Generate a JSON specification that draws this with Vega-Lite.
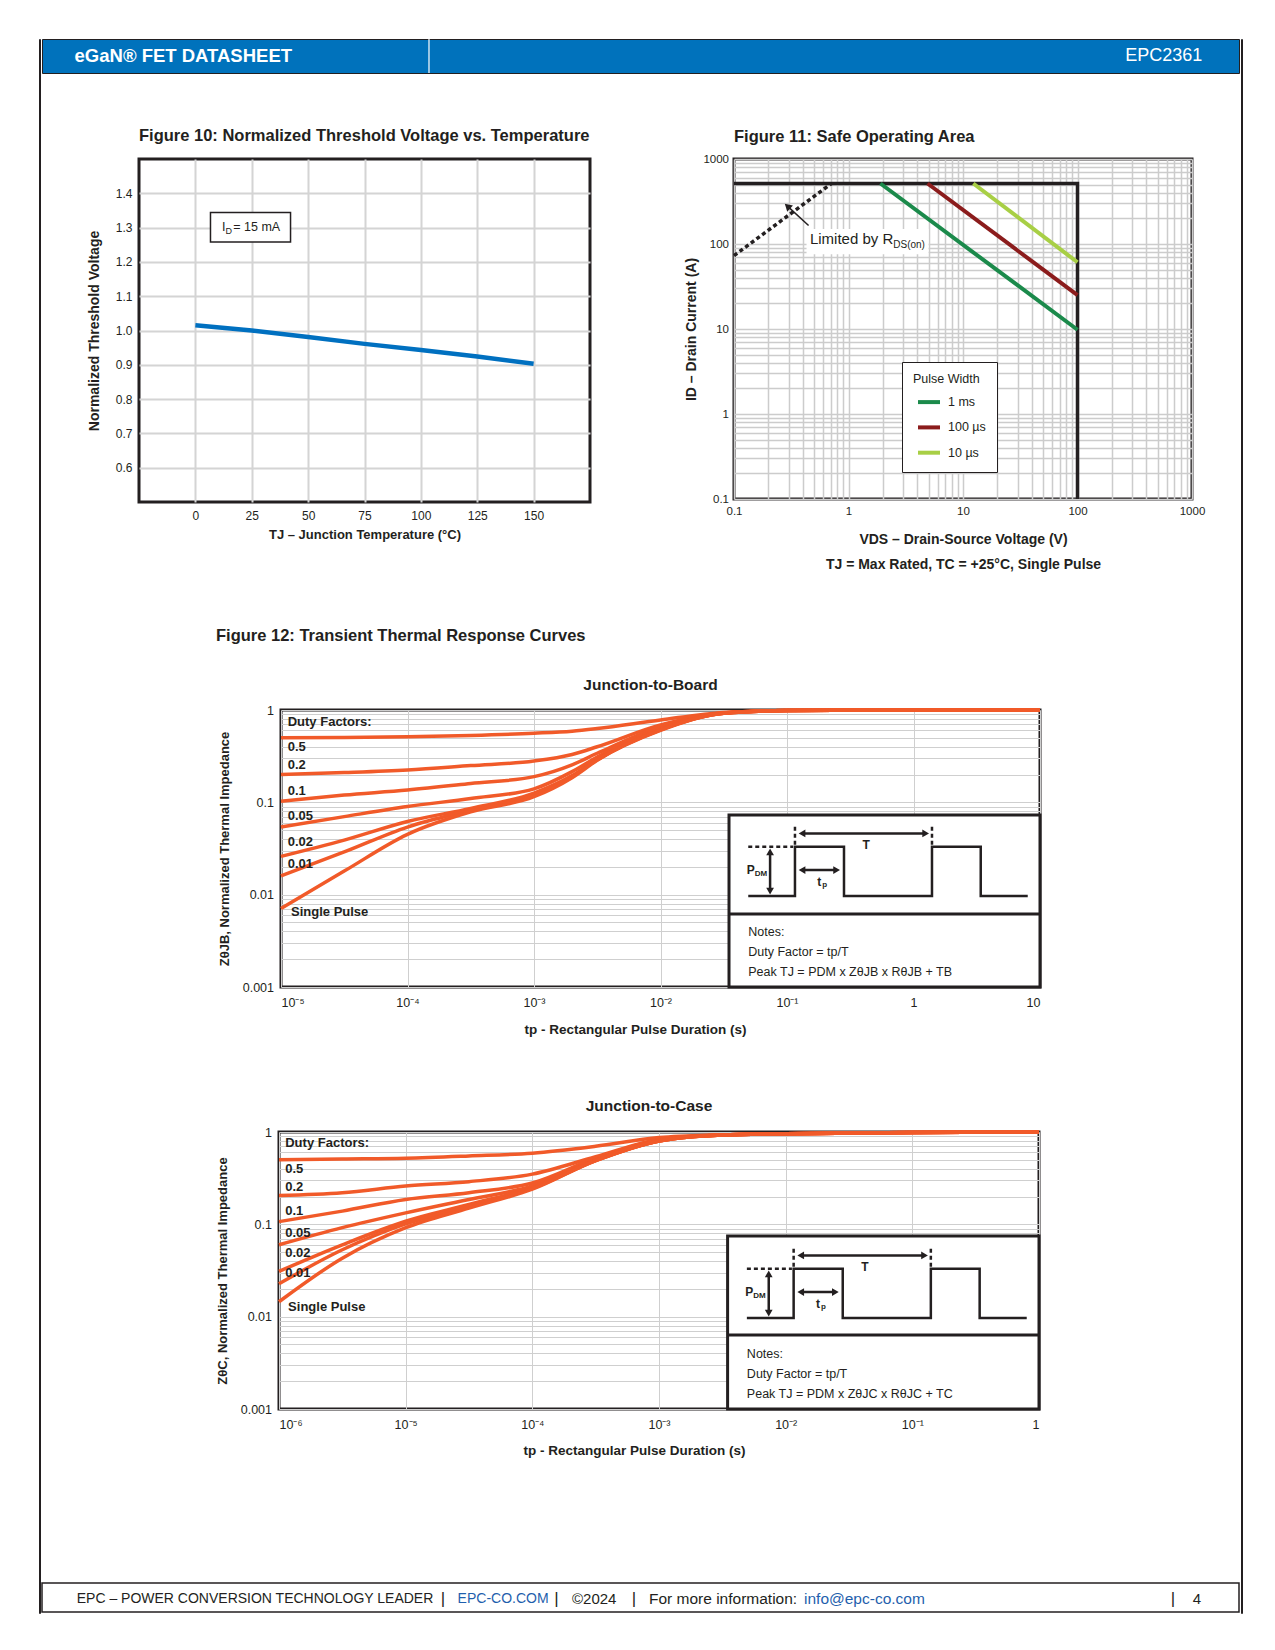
{
  "$schema": "https://vega.github.io/schema/vega-lite/v6.json",
  "background": "white",
  "padding": {"left": 38, "top": 37, "right": 0, "bottom": 0},
  "spacing": 0,
  "resolve": {"scale": {"color": "independent", "shape": "independent"}, "legend": {"color": "independent", "shape": "independent"}},
  "config": {
    "font": "Liberation Sans, Arial, sans-serif",
    "view": {"stroke": null},
    "concat": {"spacing": 0},
    "axis": {"ticks": false, "tickSize": 0, "domain": false, "grid": true, "gridColor": "#cfcfcf", "gridWidth": 1, "labelColor": "#231F20", "titleColor": "#231F20", "titleFontWeight": "bold"},
    "title": {"color": "#231F20"},
    "legend": {"labelColor": "#231F20", "titleColor": "#231F20"},
    "text": {"color": "#231F20"}
  },
  "datasets": {
    "fig10": [{"temp":0,"vth":1.015},{"temp":25,"vth":1.0},{"temp":50,"vth":0.981},{"temp":75,"vth":0.961},{"temp":100,"vth":0.943},{"temp":125,"vth":0.924},{"temp":150,"vth":0.903}],
    "soaLimit": [{"v":0.1,"i":515,"o":0},{"v":100,"i":515,"o":1},{"v":100,"i":0.1,"o":2}],
    "soaRds": [{"v":0.1,"i":73},{"v":0.71,"i":515}],
    "soaPulse": [{"pw":"1 ms","v":1.9,"i":515},{"pw":"1 ms","v":100,"i":9.8},{"pw":"100 µs","v":4.9,"i":515},{"pw":"100 µs","v":100,"i":25},{"pw":"10 µs","v":12.3,"i":515},{"pw":"10 µs","v":100,"i":61}],
    "jtb": [
      {"d":"0.5","t":0.00001,"z":0.50},{"d":"0.5","t":0.0000316,"z":0.505},{"d":"0.5","t":0.0001,"z":0.513},{"d":"0.5","t":0.000316,"z":0.53},{"d":"0.5","t":0.001,"z":0.56},{"d":"0.5","t":0.002,"z":0.59},{"d":"0.5","t":0.00316,"z":0.63},{"d":"0.5","t":0.01,"z":0.78},{"d":"0.5","t":0.0316,"z":0.94},{"d":"0.5","t":0.1,"z":0.985},{"d":"0.5","t":1,"z":1.0},{"d":"0.5","t":10,"z":1.0},
      {"d":"0.2","t":0.00001,"z":0.20},{"d":"0.2","t":0.0000316,"z":0.21},{"d":"0.2","t":0.0001,"z":0.224},{"d":"0.2","t":0.000316,"z":0.25},{"d":"0.2","t":0.001,"z":0.28},{"d":"0.2","t":0.002,"z":0.33},{"d":"0.2","t":0.00316,"z":0.40},{"d":"0.2","t":0.01,"z":0.69},{"d":"0.2","t":0.0316,"z":0.93},{"d":"0.2","t":0.1,"z":0.985},{"d":"0.2","t":1,"z":1.0},{"d":"0.2","t":10,"z":1.0},
      {"d":"0.1","t":0.00001,"z":0.103},{"d":"0.1","t":0.0000316,"z":0.12},{"d":"0.1","t":0.0001,"z":0.136},{"d":"0.1","t":0.000316,"z":0.16},{"d":"0.1","t":0.001,"z":0.19},{"d":"0.1","t":0.002,"z":0.255},{"d":"0.1","t":0.00316,"z":0.34},{"d":"0.1","t":0.01,"z":0.66},{"d":"0.1","t":0.0316,"z":0.93},{"d":"0.1","t":0.1,"z":0.985},{"d":"0.1","t":1,"z":1.0},{"d":"0.1","t":10,"z":1.0},
      {"d":"0.05","t":0.00001,"z":0.054},{"d":"0.05","t":0.0000316,"z":0.07},{"d":"0.05","t":0.0001,"z":0.09},{"d":"0.05","t":0.000316,"z":0.11},{"d":"0.05","t":0.001,"z":0.14},{"d":"0.05","t":0.002,"z":0.215},{"d":"0.05","t":0.00316,"z":0.31},{"d":"0.05","t":0.01,"z":0.63},{"d":"0.05","t":0.0316,"z":0.92},{"d":"0.05","t":0.1,"z":0.985},{"d":"0.05","t":1,"z":1.0},{"d":"0.05","t":10,"z":1.0},
      {"d":"0.02","t":0.00001,"z":0.026},{"d":"0.02","t":0.0000316,"z":0.039},{"d":"0.02","t":0.0001,"z":0.062},{"d":"0.02","t":0.000316,"z":0.086},{"d":"0.02","t":0.001,"z":0.126},{"d":"0.02","t":0.002,"z":0.195},{"d":"0.02","t":0.00316,"z":0.29},{"d":"0.02","t":0.01,"z":0.61},{"d":"0.02","t":0.0316,"z":0.92},{"d":"0.02","t":0.1,"z":0.985},{"d":"0.02","t":1,"z":1.0},{"d":"0.02","t":10,"z":1.0},
      {"d":"0.01","t":0.00001,"z":0.016},{"d":"0.01","t":0.0000316,"z":0.029},{"d":"0.01","t":0.0001,"z":0.054},{"d":"0.01","t":0.000316,"z":0.082},{"d":"0.01","t":0.001,"z":0.12},{"d":"0.01","t":0.002,"z":0.19},{"d":"0.01","t":0.00316,"z":0.29},{"d":"0.01","t":0.01,"z":0.61},{"d":"0.01","t":0.0316,"z":0.92},{"d":"0.01","t":0.1,"z":0.985},{"d":"0.01","t":1,"z":1.0},{"d":"0.01","t":10,"z":1.0},
      {"d":"Single","t":0.00001,"z":0.0071},{"d":"Single","t":0.0000316,"z":0.018},{"d":"Single","t":0.0001,"z":0.045},{"d":"Single","t":0.000316,"z":0.079},{"d":"Single","t":0.001,"z":0.115},{"d":"Single","t":0.002,"z":0.185},{"d":"Single","t":0.00316,"z":0.285},{"d":"Single","t":0.01,"z":0.60},{"d":"Single","t":0.0316,"z":0.92},{"d":"Single","t":0.1,"z":0.985},{"d":"Single","t":1,"z":1.0},{"d":"Single","t":10,"z":1.0}
    ],
    "jtc": [
      {"d":"0.5","t":0.000001,"z":0.50},{"d":"0.5","t":0.00000316,"z":0.51},{"d":"0.5","t":0.00001,"z":0.52},{"d":"0.5","t":0.0000316,"z":0.55},{"d":"0.5","t":0.0001,"z":0.59},{"d":"0.5","t":0.000316,"z":0.70},{"d":"0.5","t":0.001,"z":0.87},{"d":"0.5","t":0.00316,"z":0.93},{"d":"0.5","t":0.01,"z":0.96},{"d":"0.5","t":0.1,"z":0.99},{"d":"0.5","t":1,"z":1.0},
      {"d":"0.2","t":0.000001,"z":0.205},{"d":"0.2","t":0.00000316,"z":0.22},{"d":"0.2","t":0.00001,"z":0.26},{"d":"0.2","t":0.0000316,"z":0.29},{"d":"0.2","t":0.0001,"z":0.35},{"d":"0.2","t":0.000316,"z":0.54},{"d":"0.2","t":0.001,"z":0.83},{"d":"0.2","t":0.00316,"z":0.93},{"d":"0.2","t":0.01,"z":0.96},{"d":"0.2","t":0.1,"z":0.99},{"d":"0.2","t":1,"z":1.0},
      {"d":"0.1","t":0.000001,"z":0.107},{"d":"0.1","t":0.00000316,"z":0.139},{"d":"0.1","t":0.00001,"z":0.186},{"d":"0.1","t":0.0000316,"z":0.22},{"d":"0.1","t":0.0001,"z":0.28},{"d":"0.1","t":0.000316,"z":0.52},{"d":"0.1","t":0.001,"z":0.82},{"d":"0.1","t":0.00316,"z":0.93},{"d":"0.1","t":0.01,"z":0.96},{"d":"0.1","t":0.1,"z":0.99},{"d":"0.1","t":1,"z":1.0},
      {"d":"0.05","t":0.000001,"z":0.06},{"d":"0.05","t":0.00000316,"z":0.092},{"d":"0.05","t":0.00001,"z":0.133},{"d":"0.05","t":0.0000316,"z":0.186},{"d":"0.05","t":0.0001,"z":0.26},{"d":"0.05","t":0.000316,"z":0.50},{"d":"0.05","t":0.001,"z":0.80},{"d":"0.05","t":0.00316,"z":0.93},{"d":"0.05","t":0.01,"z":0.96},{"d":"0.05","t":0.1,"z":0.99},{"d":"0.05","t":1,"z":1.0},
      {"d":"0.02","t":0.000001,"z":0.031},{"d":"0.02","t":0.00000316,"z":0.06},{"d":"0.02","t":0.00001,"z":0.108},{"d":"0.02","t":0.0000316,"z":0.164},{"d":"0.02","t":0.0001,"z":0.25},{"d":"0.02","t":0.000316,"z":0.49},{"d":"0.02","t":0.001,"z":0.80},{"d":"0.02","t":0.00316,"z":0.93},{"d":"0.02","t":0.01,"z":0.96},{"d":"0.02","t":0.1,"z":0.99},{"d":"0.02","t":1,"z":1.0},
      {"d":"0.01","t":0.000001,"z":0.0227},{"d":"0.01","t":0.00000316,"z":0.053},{"d":"0.01","t":0.00001,"z":0.101},{"d":"0.01","t":0.0000316,"z":0.157},{"d":"0.01","t":0.0001,"z":0.245},{"d":"0.01","t":0.000316,"z":0.49},{"d":"0.01","t":0.001,"z":0.80},{"d":"0.01","t":0.00316,"z":0.93},{"d":"0.01","t":0.01,"z":0.96},{"d":"0.01","t":0.1,"z":0.99},{"d":"0.01","t":1,"z":1.0},
      {"d":"Single","t":0.000001,"z":0.0145},{"d":"Single","t":0.00000316,"z":0.043},{"d":"Single","t":0.00001,"z":0.092},{"d":"Single","t":0.0000316,"z":0.15},{"d":"Single","t":0.0001,"z":0.24},{"d":"Single","t":0.000316,"z":0.49},{"d":"Single","t":0.001,"z":0.80},{"d":"Single","t":0.00316,"z":0.93},{"d":"Single","t":0.01,"z":0.96},{"d":"Single","t":0.1,"z":0.99},{"d":"Single","t":1,"z":1.0}
    ],
    "jtbLabels": [{"t":0.0000113,"z":0.75,"label":"Duty Factors:"},{"t":0.0000113,"z":0.40,"label":"0.5"},{"t":0.0000113,"z":0.254,"label":"0.2"},{"t":0.0000113,"z":0.134,"label":"0.1"},{"t":0.0000113,"z":0.0716,"label":"0.05"},{"t":0.0000113,"z":0.0374,"label":"0.02"},{"t":0.0000113,"z":0.0215,"label":"0.01"},{"t":0.000012,"z":0.0065,"label":"Single Pulse"}],
    "jtcLabels": [{"t":0.00000112,"z":0.76,"label":"Duty Factors:"},{"t":0.00000112,"z":0.40,"label":"0.5"},{"t":0.00000112,"z":0.252,"label":"0.2"},{"t":0.00000112,"z":0.139,"label":"0.1"},{"t":0.00000112,"z":0.081,"label":"0.05"},{"t":0.00000112,"z":0.049,"label":"0.02"},{"t":0.00000112,"z":0.030,"label":"0.01"},{"t":0.00000118,"z":0.0127,"label":"Single Pulse"}],
    "jtbBox": [{"t":0.0348,"t2":10,"z":0.001,"z2":0.0729}],
    "jtbDiv": [{"t":0.0348,"t2":10,"z":0.00616,"z2":0.00616}],
    "jtbWave": [{"o":0,"t":0.0494,"z":0.00966},{"o":1,"t":0.1156,"z":0.00966},{"o":2,"t":0.1156,"z":0.033},{"o":3,"t":0.2822,"z":0.033},{"o":4,"t":0.2822,"z":0.00966},{"o":5,"t":1.40,"z":0.00966},{"o":6,"t":1.40,"z":0.033},{"o":7,"t":3.40,"z":0.033},{"o":8,"t":3.40,"z":0.00966},{"o":9,"t":8.0,"z":0.00966}],
    "jtbDash": [{"t":0.0494,"t2":0.112,"z":0.033,"z2":0.033},{"t":0.1156,"t2":0.1156,"z":0.0544,"z2":0.0345},{"t":1.40,"t2":1.40,"z":0.0544,"z2":0.0345}],
    "jtbShaft": [{"t":0.0735,"t2":0.0735,"z":0.0291,"z2":0.01094},{"t":0.1315,"t2":0.2468,"z":0.01847,"z2":0.01847},{"t":0.1315,"t2":1.248,"z":0.0461,"z2":0.0461}],
    "jtbHead": [{"t":0.0735,"z":0.0291,"dir":"up"},{"t":0.0735,"z":0.01094,"dir":"down"},{"t":0.1315,"z":0.01847,"dir":"left"},{"t":0.2468,"z":0.01847,"dir":"right"},{"t":0.1315,"z":0.0461,"dir":"left"},{"t":1.248,"z":0.0461,"dir":"right"}],
    "jtbBig": [{"t":0.395,"z":0.0345,"label":"T"},{"t":0.048,"z":0.01847,"label":"P"},{"t":0.1736,"z":0.0138,"label":"t"}],
    "jtbSmall": [{"t":0.0555,"z":0.0168,"label":"DM"},{"t":0.190,"z":0.0127,"label":"p"}],
    "jtbNotes": [{"t":0.0494,"z":0.00396,"label":"Notes:"},{"t":0.0494,"z":0.0024,"label":"Duty Factor = tp/T"},{"t":0.0494,"z":0.00146,"label":"Peak TJ = PDM x ZθJB x RθJB + TB"}],
    "jtcBox": [{"t":0.00348,"t2":1,"z":0.001,"z2":0.0749}],
    "jtcDiv": [{"t":0.00348,"t2":1,"z":0.00635,"z2":0.00635}],
    "jtcWave": [{"o":0,"t":0.00494,"z":0.00966},{"o":1,"t":0.01156,"z":0.00966},{"o":2,"t":0.01156,"z":0.033},{"o":3,"t":0.02822,"z":0.033},{"o":4,"t":0.02822,"z":0.00966},{"o":5,"t":0.140,"z":0.00966},{"o":6,"t":0.140,"z":0.033},{"o":7,"t":0.340,"z":0.033},{"o":8,"t":0.340,"z":0.00966},{"o":9,"t":0.80,"z":0.00966}],
    "jtcDash": [{"t":0.00494,"t2":0.0112,"z":0.033,"z2":0.033},{"t":0.01156,"t2":0.01156,"z":0.0544,"z2":0.0345},{"t":0.140,"t2":0.140,"z":0.0544,"z2":0.0345}],
    "jtcShaft": [{"t":0.00735,"t2":0.00735,"z":0.0291,"z2":0.01094},{"t":0.01315,"t2":0.02468,"z":0.01847,"z2":0.01847},{"t":0.01315,"t2":0.1248,"z":0.0461,"z2":0.0461}],
    "jtcHead": [{"t":0.00735,"z":0.0291,"dir":"up"},{"t":0.00735,"z":0.01094,"dir":"down"},{"t":0.01315,"z":0.01847,"dir":"left"},{"t":0.02468,"z":0.01847,"dir":"right"},{"t":0.01315,"z":0.0461,"dir":"left"},{"t":0.1248,"z":0.0461,"dir":"right"}],
    "jtcBig": [{"t":0.0395,"z":0.0345,"label":"T"},{"t":0.0048,"z":0.01847,"label":"P"},{"t":0.01736,"z":0.0138,"label":"t"}],
    "jtcSmall": [{"t":0.00555,"z":0.0168,"label":"DM"},{"t":0.0190,"z":0.0127,"label":"p"}],
    "jtcNotes": [{"t":0.00494,"z":0.00396,"label":"Notes:"},{"t":0.00494,"z":0.0024,"label":"Duty Factor = tp/T"},{"t":0.00494,"z":0.00146,"label":"Peak TJ = PDM x ZθJC x RθJC + TC"}]
  },
  "hconcat": [
    {"width": 1, "height": 1574, "data": {"values": []}, "mark": "point", "view": {"stroke": "#231F20", "strokeWidth": 1}},
    {
      "spacing": 0,
      "resolve": {"scale": {"color": "independent", "shape": "independent"}, "legend": {"color": "independent", "shape": "independent"}},
      "vconcat": [
        {
          "width": 1197, "height": 34,
          "view": {"fill": "#0072BC", "stroke": "#231F20", "strokeWidth": 1},
          "layer": [
            {"data": {"values": [{"label": "eGaN® FET DATASHEET"}]}, "mark": {"type": "text", "align": "left", "baseline": "middle", "fontSize": 18.5, "fontWeight": "bold", "color": "white"}, "encoding": {"x": {"datum": 0.0272, "type": "quantitative", "scale": {"domain": [0, 1]}, "axis": null}, "text": {"field": "label"}}},
            {"data": {"values": [{"label": "EPC2361"}]}, "mark": {"type": "text", "align": "right", "baseline": "middle", "fontSize": 18, "color": "white"}, "encoding": {"x": {"datum": 0.9694, "type": "quantitative"}, "text": {"field": "label"}}},
            {"data": {"values": [{"label": "sep"}]}, "mark": {"type": "rule", "color": "white", "strokeWidth": 1.2}, "encoding": {"x": {"datum": 0.3233, "type": "quantitative"}}}
          ]
        },
        {"width": 1, "height": 51, "data": {"values": []}, "mark": "point"},
        {
          "spacing": 0,
          "resolve": {"scale": {"color": "independent"}, "legend": {"color": "independent"}},
          "hconcat": [
            {"width": 43, "height": 1, "data": {"values": []}, "mark": "point"},
            {
              "width": 451, "height": 343,
              "view": {"stroke": "#231F20", "strokeWidth": 3},
              "title": {"text": "Figure 10: Normalized Threshold Voltage vs. Temperature", "anchor": "start", "frame": "group", "fontSize": 16.5, "fontWeight": "bold", "offset": 14.7},
              "layer": [
                {"data": {"name": "fig10"}, "mark": {"type": "line", "color": "#0070C0", "strokeWidth": 4.5},
                 "encoding": {
                   "x": {"field": "temp", "type": "quantitative", "scale": {"domain": [-25, 175], "nice": false, "zero": false},
                         "axis": {"values": [0, 25, 50, 75, 100, 125, 150], "title": "TJ – Junction Temperature (°C)", "labelFontSize": 12, "labelPadding": 8, "titleFontSize": 13, "titlePadding": 7.5, "gridWidth": 2, "gridColor": "#d4d4d4", "labelFlush": false}},
                   "y": {"field": "vth", "type": "quantitative", "scale": {"domain": [0.5, 1.5], "nice": false, "zero": false},
                         "axis": {"values": [0.6, 0.7, 0.8, 0.9, 1.0, 1.1, 1.2, 1.3, 1.4], "format": ".1f", "title": "Normalized Threshold Voltage", "labelFontSize": 12, "labelPadding": 7, "titleFontSize": 14, "titlePadding": 14, "gridWidth": 2, "gridColor": "#d4d4d4"}}
                 }},
                {"data": {"values": [{"temp": 6.7, "temp2": 42.2, "vth": 1.258, "vth2": 1.344}]}, "mark": {"type": "rect", "fill": "white", "stroke": "#231F20", "strokeWidth": 1.5},
                 "encoding": {"x": {"field": "temp", "type": "quantitative"}, "x2": {"field": "temp2"}, "y": {"field": "vth", "type": "quantitative"}, "y2": {"field": "vth2"}}},
                {"data": {"values": [{"temp": 11.8, "vth": 1.301, "label": "I"}, {"temp": 16.8, "vth": 1.301, "label": "= 15 mA"}]}, "mark": {"type": "text", "align": "left", "baseline": "middle", "fontSize": 12.5},
                 "encoding": {"x": {"field": "temp", "type": "quantitative"}, "y": {"field": "vth", "type": "quantitative"}, "text": {"field": "label"}}},
                {"data": {"values": [{"temp": 13.4, "vth": 1.289, "label": "D"}]}, "mark": {"type": "text", "align": "left", "baseline": "middle", "fontSize": 9},
                 "encoding": {"x": {"field": "temp", "type": "quantitative"}, "y": {"field": "vth", "type": "quantitative"}, "text": {"field": "label"}}}
              ]
            },
            {"width": 90.5, "height": 1, "data": {"values": []}, "mark": "point"},
            {
              "width": 458, "height": 340,
              "view": {"stroke": "#231F20", "strokeWidth": 3},
              "title": {"text": "Figure 11: Safe Operating Area", "anchor": "start", "frame": "group", "fontSize": 16.5, "fontWeight": "bold", "offset": 8},
              "layer": [
                {"data": {"values": [{"v": 0.43, "v2": 5.0, "i": 76, "i2": 150}]}, "mark": {"type": "rect", "fill": "white"},
                 "encoding": {
                   "x": {"field": "v", "type": "quantitative", "scale": {"type": "log", "domain": [0.1, 1000], "nice": false},
                         "axis": {"values": [0.1,0.2,0.3,0.4,0.5,0.6,0.7,0.8,0.9,1,2,3,4,5,6,7,8,9,10,20,30,40,50,60,70,80,90,100,200,300,400,500,600,700,800,900,1000],
                                  "labelExpr": "abs(log(datum.value)/LN10 - round(log(datum.value)/LN10)) < 0.01 ? format(datum.value, '~g') : ''",
                                  "title": ["VDS – Drain-Source Voltage (V)", "TJ = Max Rated, TC = +25°C, Single Pulse"], "titleLineHeight": 25, "labelFontSize": 11.5, "labelPadding": 6.5, "titleFontSize": 14, "titlePadding": 15.5, "labelFlush": false, "gridWidth": 1.5, "gridColor": "#cccccc"}},
                   "x2": {"field": "v2"},
                   "y": {"field": "i", "type": "quantitative", "scale": {"type": "log", "domain": [0.1, 1000], "nice": false},
                         "axis": {"values": [0.1,0.2,0.3,0.4,0.5,0.6,0.7,0.8,0.9,1,2,3,4,5,6,7,8,9,10,20,30,40,50,60,70,80,90,100,200,300,400,500,600,700,800,900,1000],
                                  "labelExpr": "abs(log(datum.value)/LN10 - round(log(datum.value)/LN10)) < 0.01 ? format(datum.value, '~g') : ''",
                                  "title": "ID – Drain Current (A)", "labelFontSize": 11.5, "labelPadding": 5.5, "titleFontSize": 14, "titlePadding": 4, "gridWidth": 1.5, "gridColor": "#cccccc"}},
                   "y2": {"field": "i2"}
                 }},
                {"data": {"name": "soaLimit"}, "mark": {"type": "line", "color": "#231F20", "strokeWidth": 3.5},
                 "encoding": {"x": {"field": "v", "type": "quantitative"}, "y": {"field": "i", "type": "quantitative"}, "order": {"field": "o"}}},
                {"data": {"name": "soaRds"}, "mark": {"type": "line", "color": "#231F20", "strokeWidth": 3.5, "strokeDash": [4, 3]},
                 "encoding": {"x": {"field": "v", "type": "quantitative"}, "y": {"field": "i", "type": "quantitative"}}},
                {"data": {"name": "soaPulse"}, "mark": {"type": "line", "strokeWidth": 4},
                 "encoding": {"x": {"field": "v", "type": "quantitative"}, "y": {"field": "i", "type": "quantitative"},
                   "color": {"field": "pw", "type": "nominal", "scale": {"domain": ["1 ms", "100 µs", "10 µs"], "range": ["#1B8A4B", "#8B1C1C", "#A8CF45"]},
                             "legend": {"orient": "none", "legendX": 168, "legendY": 203, "title": "Pulse Width", "titleFontSize": 12.5, "titleFontWeight": "normal", "labelFontSize": 12.5, "symbolType": "stroke", "symbolStrokeWidth": 4, "symbolSize": 484, "symbolOffset": 3, "strokeColor": "#231F20", "fillColor": "white", "padding": 11, "rowPadding": 4.3, "titlePadding": 3.6, "labelOffset": 6}}}},
                {"data": {"values": [{"v": 0.448, "v2": 0.293, "i": 165, "i2": 279}]}, "mark": {"type": "rule", "color": "#231F20", "strokeWidth": 1.5},
                 "encoding": {"x": {"field": "v", "type": "quantitative"}, "x2": {"field": "v2"}, "y": {"field": "i", "type": "quantitative"}, "y2": {"field": "i2"}}},
                {"data": {"values": [{"v": 0.293, "i": 279}]}, "mark": {"type": "point", "shape": "triangle-up", "filled": true, "color": "#231F20", "size": 70, "angle": -47, "opacity": 1},
                 "encoding": {"x": {"field": "v", "type": "quantitative"}, "y": {"field": "i", "type": "quantitative"}}},
                {"data": {"values": [{"v": 0.46, "i": 115, "label": "Limited by R"}]}, "mark": {"type": "text", "align": "left", "baseline": "middle", "fontSize": 15},
                 "encoding": {"x": {"field": "v", "type": "quantitative"}, "y": {"field": "i", "type": "quantitative"}, "text": {"field": "label"}}},
                {"data": {"values": [{"v": 2.46, "i": 97, "label": "DS(on)"}]}, "mark": {"type": "text", "align": "left", "baseline": "middle", "fontSize": 10},
                 "encoding": {"x": {"field": "v", "type": "quantitative"}, "y": {"field": "i", "type": "quantitative"}, "text": {"field": "label"}}}
              ]
            }
          ]
        },
        {"width": 1, "height": 54, "data": {"values": []}, "mark": "point"},
        {
          "spacing": 0,
          "hconcat": [
            {"width": 174, "height": 1, "data": {"values": []}, "mark": "point"},
            {"width": 500, "height": 1, "data": {"values": []}, "mark": "point",
             "title": {"text": "Figure 12:  Transient Thermal Response Curves", "anchor": "start", "fontSize": 16.5, "fontWeight": "bold", "offset": 0}}
          ]
        },
        {"width": 1, "height": 31, "data": {"values": []}, "mark": "point"},
        {
          "spacing": 0,
          "hconcat": [
            {"width": 174, "height": 1, "data": {"values": []}, "mark": "point"},
            {
              "width": 759, "height": 277,
              "view": {"stroke": "#231F20", "strokeWidth": 3},
              "title": {"text": "Junction-to-Board", "fontSize": 15.5, "fontWeight": "bold", "anchor": "middle", "frame": "group", "dx": -10, "offset": 9.7},
              "layer": [
                {"data": {"name": "jtb"}, "mark": {"type": "line", "color": "#F15A29", "strokeWidth": 3.5, "interpolate": "monotone"},
                 "encoding": {
                   "x": {"field": "t", "type": "quantitative", "scale": {"type": "log", "domain": [0.00001, 10], "nice": false},
                         "axis": {"values": [0.00001, 0.0001, 0.001, 0.01, 0.1, 1, 10],
                                  "labelExpr": "datum.value < 0.000005 ? '10⁻⁶' : datum.value < 0.00005 ? '10⁻⁵' : datum.value < 0.0005 ? '10⁻⁴' : datum.value < 0.005 ? '10⁻³' : datum.value < 0.05 ? '10⁻²' : datum.value < 0.5 ? '10⁻¹' : datum.value < 5 ? '1' : '10'",
                                  "title": "tp - Rectangular Pulse Duration (s)", "titleX": 354, "labelFontSize": 12.5, "labelPadding": 9.5, "titleFontSize": 13.5, "titlePadding": 13.5}},
                   "y": {"field": "z", "type": "quantitative", "scale": {"type": "log", "domain": [0.001, 1], "nice": false},
                         "axis": {"values": [0.001,0.002,0.003,0.004,0.005,0.006,0.007,0.008,0.009,0.01,0.02,0.03,0.04,0.05,0.06,0.07,0.08,0.09,0.1,0.2,0.3,0.4,0.5,0.6,0.7,0.8,0.9,1],
                                  "labelExpr": "abs(log(datum.value)/LN10 - round(log(datum.value)/LN10)) < 0.01 ? format(datum.value, '~g') : ''",
                                  "title": "ZθJB, Normalized Thermal Impedance", "labelFontSize": 12.5, "labelPadding": 7.5, "titleFontSize": 13, "titlePadding": 11}},
                   "detail": {"field": "d"}
                 }},
                {"data": {"name": "jtbBox"}, "mark": {"type": "rect", "fill": "white", "stroke": "#231F20", "strokeWidth": 3},
                 "encoding": {"x": {"field": "t", "type": "quantitative"}, "x2": {"field": "t2"}, "y": {"field": "z", "type": "quantitative"}, "y2": {"field": "z2"}}},
                {"data": {"name": "jtbDiv"}, "mark": {"type": "rule", "color": "#231F20", "strokeWidth": 3},
                 "encoding": {"x": {"field": "t", "type": "quantitative"}, "x2": {"field": "t2"}, "y": {"field": "z", "type": "quantitative"}, "y2": {"field": "z2"}}},
                {"data": {"name": "jtbWave"}, "mark": {"type": "line", "color": "#231F20", "strokeWidth": 2.5},
                 "encoding": {"x": {"field": "t", "type": "quantitative"}, "y": {"field": "z", "type": "quantitative"}, "order": {"field": "o"}}},
                {"data": {"name": "jtbDash"}, "mark": {"type": "rule", "color": "#231F20", "strokeWidth": 2.5, "strokeDash": [4, 3]},
                 "encoding": {"x": {"field": "t", "type": "quantitative"}, "x2": {"field": "t2"}, "y": {"field": "z", "type": "quantitative"}, "y2": {"field": "z2"}}},
                {"data": {"name": "jtbShaft"}, "mark": {"type": "rule", "color": "#231F20", "strokeWidth": 2.5},
                 "encoding": {"x": {"field": "t", "type": "quantitative"}, "x2": {"field": "t2"}, "y": {"field": "z", "type": "quantitative"}, "y2": {"field": "z2"}}},
                {"data": {"name": "jtbHead"}, "mark": {"type": "point", "filled": true, "color": "#231F20", "size": 60, "opacity": 1},
                 "encoding": {"x": {"field": "t", "type": "quantitative"}, "y": {"field": "z", "type": "quantitative"},
                   "shape": {"field": "dir", "type": "nominal", "scale": {"domain": ["up", "down", "left", "right"], "range": ["triangle-up", "triangle-down", "triangle-left", "triangle-right"]}, "legend": null}}},
                {"data": {"name": "jtbBig"}, "mark": {"type": "text", "align": "left", "baseline": "middle", "fontSize": 12, "fontWeight": "bold"},
                 "encoding": {"x": {"field": "t", "type": "quantitative"}, "y": {"field": "z", "type": "quantitative"}, "text": {"field": "label"}}},
                {"data": {"name": "jtbSmall"}, "mark": {"type": "text", "align": "left", "baseline": "middle", "fontSize": 8, "fontWeight": "bold"},
                 "encoding": {"x": {"field": "t", "type": "quantitative"}, "y": {"field": "z", "type": "quantitative"}, "text": {"field": "label"}}},
                {"data": {"name": "jtbNotes"}, "mark": {"type": "text", "align": "left", "baseline": "middle", "fontSize": 12.5},
                 "encoding": {"x": {"field": "t", "type": "quantitative"}, "y": {"field": "z", "type": "quantitative"}, "text": {"field": "label"}}},
                {"data": {"name": "jtbLabels"}, "mark": {"type": "text", "align": "left", "baseline": "middle", "fontSize": 13, "fontWeight": "bold"},
                 "encoding": {"x": {"field": "t", "type": "quantitative"}, "y": {"field": "z", "type": "quantitative"}, "text": {"field": "label"}}}
              ]
            }
          ]
        },
        {"width": 1, "height": 59, "data": {"values": []}, "mark": "point"},
        {
          "spacing": 0,
          "hconcat": [
            {"width": 172, "height": 1, "data": {"values": []}, "mark": "point"},
            {
              "width": 760, "height": 277,
              "view": {"stroke": "#231F20", "strokeWidth": 3},
              "title": {"text": "Junction-to-Case", "fontSize": 15.5, "fontWeight": "bold", "anchor": "middle", "frame": "group", "dx": -10, "offset": 10.1},
              "layer": [
                {"data": {"name": "jtc"}, "mark": {"type": "line", "color": "#F15A29", "strokeWidth": 3.5, "interpolate": "monotone"},
                 "encoding": {
                   "x": {"field": "t", "type": "quantitative", "scale": {"type": "log", "domain": [0.000001, 1], "nice": false},
                         "axis": {"values": [0.000001, 0.00001, 0.0001, 0.001, 0.01, 0.1, 1],
                                  "labelExpr": "datum.value < 0.000005 ? '10⁻⁶' : datum.value < 0.00005 ? '10⁻⁵' : datum.value < 0.0005 ? '10⁻⁴' : datum.value < 0.005 ? '10⁻³' : datum.value < 0.05 ? '10⁻²' : datum.value < 0.5 ? '10⁻¹' : datum.value < 5 ? '1' : '10'",
                                  "title": "tp - Rectangular Pulse Duration (s)", "titleX": 355, "labelFontSize": 12.5, "labelPadding": 9, "titleFontSize": 13.5, "titlePadding": 13}},
                   "y": {"field": "z", "type": "quantitative", "scale": {"type": "log", "domain": [0.001, 1], "nice": false},
                         "axis": {"values": [0.001,0.002,0.003,0.004,0.005,0.006,0.007,0.008,0.009,0.01,0.02,0.03,0.04,0.05,0.06,0.07,0.08,0.09,0.1,0.2,0.3,0.4,0.5,0.6,0.7,0.8,0.9,1],
                                  "labelExpr": "abs(log(datum.value)/LN10 - round(log(datum.value)/LN10)) < 0.01 ? format(datum.value, '~g') : ''",
                                  "title": "ZθC, Normalized Thermal Impedance", "labelFontSize": 12.5, "labelPadding": 7.5, "titleFontSize": 13, "titlePadding": 11}},
                   "detail": {"field": "d"}
                 }},
                {"data": {"name": "jtcBox"}, "mark": {"type": "rect", "fill": "white", "stroke": "#231F20", "strokeWidth": 3},
                 "encoding": {"x": {"field": "t", "type": "quantitative"}, "x2": {"field": "t2"}, "y": {"field": "z", "type": "quantitative"}, "y2": {"field": "z2"}}},
                {"data": {"name": "jtcDiv"}, "mark": {"type": "rule", "color": "#231F20", "strokeWidth": 3},
                 "encoding": {"x": {"field": "t", "type": "quantitative"}, "x2": {"field": "t2"}, "y": {"field": "z", "type": "quantitative"}, "y2": {"field": "z2"}}},
                {"data": {"name": "jtcWave"}, "mark": {"type": "line", "color": "#231F20", "strokeWidth": 2.5},
                 "encoding": {"x": {"field": "t", "type": "quantitative"}, "y": {"field": "z", "type": "quantitative"}, "order": {"field": "o"}}},
                {"data": {"name": "jtcDash"}, "mark": {"type": "rule", "color": "#231F20", "strokeWidth": 2.5, "strokeDash": [4, 3]},
                 "encoding": {"x": {"field": "t", "type": "quantitative"}, "x2": {"field": "t2"}, "y": {"field": "z", "type": "quantitative"}, "y2": {"field": "z2"}}},
                {"data": {"name": "jtcShaft"}, "mark": {"type": "rule", "color": "#231F20", "strokeWidth": 2.5},
                 "encoding": {"x": {"field": "t", "type": "quantitative"}, "x2": {"field": "t2"}, "y": {"field": "z", "type": "quantitative"}, "y2": {"field": "z2"}}},
                {"data": {"name": "jtcHead"}, "mark": {"type": "point", "filled": true, "color": "#231F20", "size": 60, "opacity": 1},
                 "encoding": {"x": {"field": "t", "type": "quantitative"}, "y": {"field": "z", "type": "quantitative"},
                   "shape": {"field": "dir", "type": "nominal", "scale": {"domain": ["up", "down", "left", "right"], "range": ["triangle-up", "triangle-down", "triangle-left", "triangle-right"]}, "legend": null}}},
                {"data": {"name": "jtcBig"}, "mark": {"type": "text", "align": "left", "baseline": "middle", "fontSize": 12, "fontWeight": "bold"},
                 "encoding": {"x": {"field": "t", "type": "quantitative"}, "y": {"field": "z", "type": "quantitative"}, "text": {"field": "label"}}},
                {"data": {"name": "jtcSmall"}, "mark": {"type": "text", "align": "left", "baseline": "middle", "fontSize": 8, "fontWeight": "bold"},
                 "encoding": {"x": {"field": "t", "type": "quantitative"}, "y": {"field": "z", "type": "quantitative"}, "text": {"field": "label"}}},
                {"data": {"name": "jtcNotes"}, "mark": {"type": "text", "align": "left", "baseline": "middle", "fontSize": 12.5},
                 "encoding": {"x": {"field": "t", "type": "quantitative"}, "y": {"field": "z", "type": "quantitative"}, "text": {"field": "label"}}},
                {"data": {"name": "jtcLabels"}, "mark": {"type": "text", "align": "left", "baseline": "middle", "fontSize": 13, "fontWeight": "bold"},
                 "encoding": {"x": {"field": "t", "type": "quantitative"}, "y": {"field": "z", "type": "quantitative"}, "text": {"field": "label"}}}
              ]
            }
          ]
        },
        {"width": 1, "height": 122.5, "data": {"values": []}, "mark": "point"},
        {
          "width": 1197, "height": 29,
          "view": {"stroke": "#231F20", "strokeWidth": 1.5},
          "layer": [
            {"data": {"values": [{"label": "EPC – POWER CONVERSION TECHNOLOGY LEADER"}]}, "mark": {"type": "text", "align": "left", "baseline": "middle", "fontSize": 14, "dy": 1}, "encoding": {"x": {"datum": 0.029, "type": "quantitative", "scale": {"domain": [0, 1]}, "axis": null}, "text": {"field": "label"}}},
            {"data": {"values": [{"label": "|"}]}, "mark": {"type": "text", "align": "center", "baseline": "middle", "fontSize": 17, "dy": 1}, "encoding": {"x": {"datum": 0.335, "type": "quantitative"}, "text": {"field": "label"}}},
            {"data": {"values": [{"label": "EPC-CO.COM"}]}, "mark": {"type": "text", "align": "left", "baseline": "middle", "fontSize": 14, "dy": 1, "color": "#1F5FAD"}, "encoding": {"x": {"datum": 0.3472, "type": "quantitative"}, "text": {"field": "label"}}},
            {"data": {"values": [{"label": "|"}]}, "mark": {"type": "text", "align": "center", "baseline": "middle", "fontSize": 17, "dy": 1}, "encoding": {"x": {"datum": 0.4298, "type": "quantitative"}, "text": {"field": "label"}}},
            {"data": {"values": [{"label": "©2024"}]}, "mark": {"type": "text", "align": "left", "baseline": "middle", "fontSize": 15, "dy": 1}, "encoding": {"x": {"datum": 0.4428, "type": "quantitative"}, "text": {"field": "label"}}},
            {"data": {"values": [{"label": "|"}]}, "mark": {"type": "text", "align": "center", "baseline": "middle", "fontSize": 17, "dy": 1}, "encoding": {"x": {"datum": 0.4946, "type": "quantitative"}, "text": {"field": "label"}}},
            {"data": {"values": [{"label": "For more information:"}]}, "mark": {"type": "text", "align": "left", "baseline": "middle", "fontSize": 15.5, "dy": 1}, "encoding": {"x": {"datum": 0.5071, "type": "quantitative"}, "text": {"field": "label"}}},
            {"data": {"values": [{"label": "info@epc-co.com"}]}, "mark": {"type": "text", "align": "left", "baseline": "middle", "fontSize": 15.5, "dy": 1, "color": "#1F5FAD"}, "encoding": {"x": {"datum": 0.6366, "type": "quantitative"}, "text": {"field": "label"}}},
            {"data": {"values": [{"label": "|"}]}, "mark": {"type": "text", "align": "center", "baseline": "middle", "fontSize": 17, "dy": 1}, "encoding": {"x": {"datum": 0.9449, "type": "quantitative"}, "text": {"field": "label"}}},
            {"data": {"values": [{"label": "4"}]}, "mark": {"type": "text", "align": "center", "baseline": "middle", "fontSize": 15, "dy": 1}, "encoding": {"x": {"datum": 0.9649, "type": "quantitative"}, "text": {"field": "label"}}}
          ]
        }
      ]
    },
    {"width": 1, "height": 1574, "data": {"values": []}, "mark": "point", "view": {"stroke": "#231F20", "strokeWidth": 1}}
  ]
}
